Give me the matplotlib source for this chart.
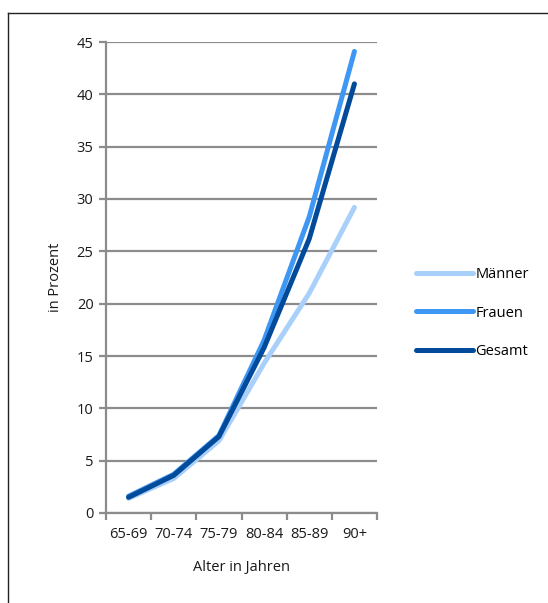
import matplotlib
matplotlib.use("Agg")
import matplotlib.pyplot as plt
from matplotlib.lines import Line2D

# Anteil nach Altersgruppe (in Prozent)
altersgruppen = ["65-69", "70-74", "75-79", "80-84", "85-89", "90+"]
maenner = [1.4, 3.3, 6.9, 14.3, 21.0, 29.2]
frauen = [1.6, 3.7, 7.4, 16.5, 28.3, 44.1]
gesamt = [1.5, 3.6, 7.3, 15.8, 26.2, 41.0]
y_ticks = [0, 5, 10, 15, 20, 25, 30, 35, 40, 45]

plt.rcParams["font.family"] = ["Open Sans", "DejaVu Sans"]

W, H = 548, 603
fig = plt.figure(figsize=(W / 100, H / 100), dpi=100)
ax = fig.add_axes([106 / W, 1 - 513 / H, (377 - 106) / W, (513 - 42) / H])

x = range(len(altersgruppen))
serien = [
    ("Männer", maenner, "#a8d0fb"),
    ("Frauen", frauen, "#3f97f4"),
    ("Gesamt", gesamt, "#024a9a"),
]
handles = []
for name, werte, farbe in serien:
    (ln,) = ax.plot(x, werte, color=farbe, lw=3.6, solid_capstyle="round",
                    solid_joinstyle="round", label=name, zorder=3)
    handles.append(ln)

ax.set_xlim(-0.5, len(altersgruppen) - 0.5)
ax.set_ylim(0, 45)
ax.set_yticks(y_ticks)
ax.set_xticks(x)
ax.set_xticklabels(altersgruppen)
ax.set_xticks([i - 0.5 for i in range(len(altersgruppen) + 1)], minor=True)

grau = "#8c8c8c"
ax.yaxis.grid(True, color=grau, lw=1.6, zorder=1)
ax.set_axisbelow(True)
for s in ["top", "right"]:
    ax.spines[s].set_visible(False)
for s in ["left", "bottom"]:
    ax.spines[s].set_color(grau)
    ax.spines[s].set_linewidth(1.6)

ax.tick_params(axis="x", which="major", length=0, pad=10, labelsize=10.5,
               colors="#1a1a1a")
ax.tick_params(axis="x", which="minor", length=5, width=1.6, color=grau)
ax.tick_params(axis="y", length=5, width=1.6, color=grau, labelsize=10.5,
               labelcolor="#1a1a1a", pad=4)

ax.set_xlabel("Alter in Jahren", fontsize=10.5, labelpad=13, color="#1a1a1a")
ax.set_ylabel("in Prozent", fontsize=10.5, labelpad=10, color="#1a1a1a")

fig.legend(handles=handles, loc="upper left",
           bbox_to_anchor=(410 / W, 1 - 261 / H), frameon=False,
           fontsize=10.5, handlelength=3.9, handletextpad=0.2,
           labelspacing=1.63, borderaxespad=0)

# Rahmen oben und links
fig.add_artist(Line2D([7.5 / W, 7.5 / W], [0, 1 - 12.5 / H],
                      transform=fig.transFigure, color="#222222", lw=1.0))
fig.add_artist(Line2D([7.5 / W, 1], [1 - 12.5 / H, 1 - 12.5 / H],
                      transform=fig.transFigure, color="#222222", lw=1.0))

fig.savefig("out.png", dpi=100)
